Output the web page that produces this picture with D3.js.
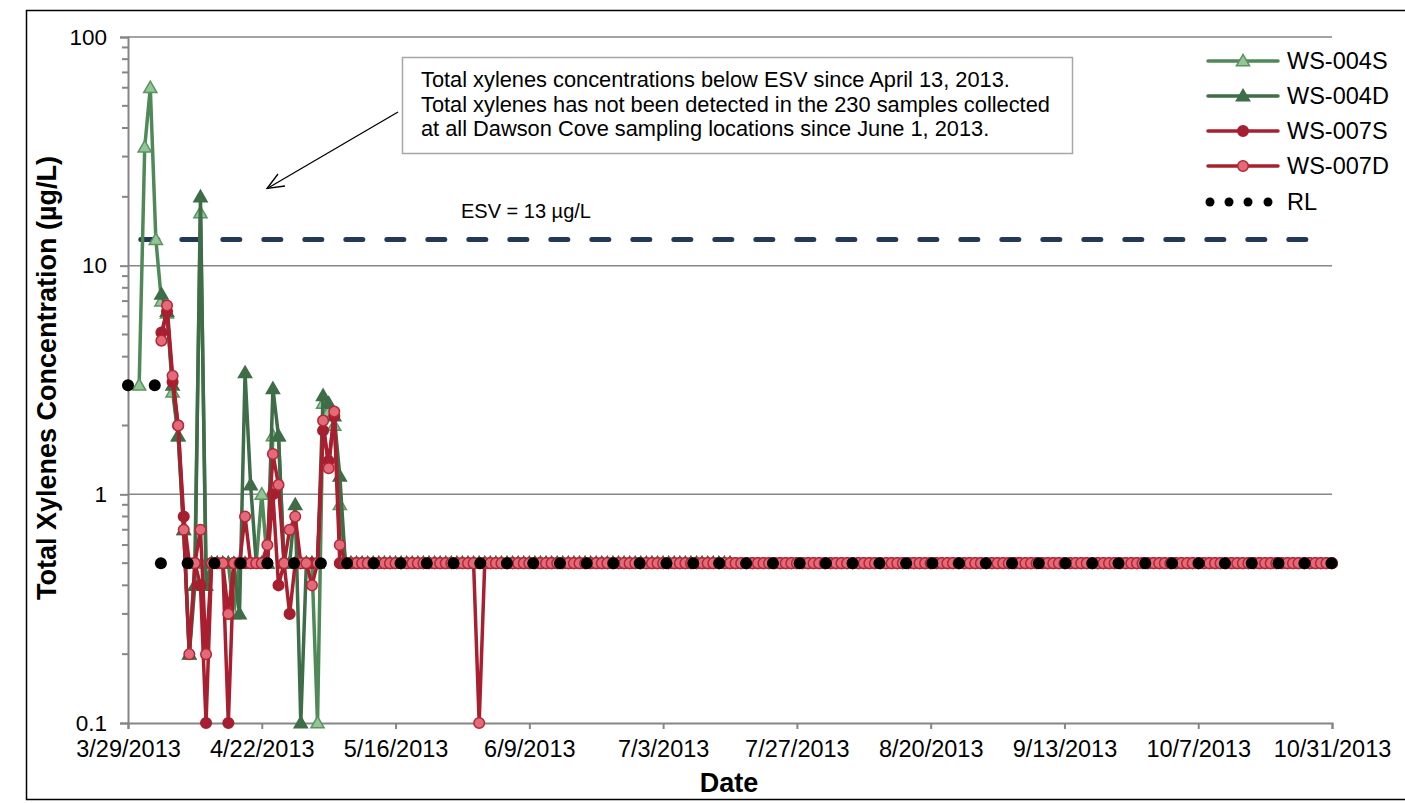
<!DOCTYPE html>
<html><head><meta charset="utf-8">
<script src="https://cdn.jsdelivr.net/npm/d3@7"></script>
<style>body{margin:0;background:#fff} svg{display:block} text{font-family:"Liberation Sans",Arial,sans-serif;fill:#000}</style>
</head><body><svg id="c" width="1405" height="803"></svg>
<script>
const N = null;
// days since 3/29/2013 (daily sampling)
const sampleDay = [
0,1,2,3,4,5,6,7,8,9,
10,11,12,13,14,15,16,17,18,19,
20,21,22,23,24,25,26,27,28,29,
30,31,32,33,34,35,36,37,38,39,
40,41,42,43,44,45,46,47,48,49,
50,51,52,53,54,55,56,57,58,59,
60,61,62,63,64,65,66,67,68,69,
70,71,72,73,74,75,76,77,78,79,
80,81,82,83,84,85,86,87,88,89,
90,91,92,93,94,95,96,97,98,99,
100,101,102,103,104,105,106,107,108,109,
110,111,112,113,114,115,116,117,118,119,
120,121,122,123,124,125,126,127,128,129,
130,131,132,133,134,135,136,137,138,139,
140,141,142,143,144,145,146,147,148,149,
150,151,152,153,154,155,156,157,158,159,
160,161,162,163,164,165,166,167,168,169,
170,171,172,173,174,175,176,177,178,179,
180,181,182,183,184,185,186,187,188,189,
190,191,192,193,194,195,196,197,198,199,
200,201,202,203,204,205,206,207,208,209,
210,211,212,213,214,215,216];

const ws004S = [
N,N,3,33,60,13,7.0,6.2,2.8,1.8,
0.7,0.2,0.5,17,0.5,0.5,0.5,0.5,0.5,0.3,
0.5,0.5,0.5,0.5,1.0,0.5,1.8,1.8,0.5,0.5,
0.5,0.5,0.5,0.5,0.1,2.5,2.3,2.0,0.9,0.5,
0.5,0.5,0.5,0.5,0.5,0.5,0.5,0.5,0.5,0.5,
0.5,0.5,0.5,0.5,0.5,0.5,0.5,0.5,0.5,0.5,
0.5,0.5,0.5,0.5,0.5,0.5,0.5,0.5,0.5,0.5,
0.5,0.5,0.5,0.5,0.5,0.5,0.5,0.5,0.5,0.5,
0.5,0.5,0.5,0.5,0.5,0.5,0.5,0.5,0.5,0.5,
0.5,0.5,0.5,0.5,0.5,0.5,0.5,0.5,0.5,0.5,
0.5,0.5,0.5,0.5,0.5,0.5,0.5,0.5,0.5,N,
N,N,N,N,N,N,N,N,N,N, N,N,N,N,N,N,N,N,N,N,
N,N,N,N,N,N,N,N,N,N, N,N,N,N,N,N,N,N,N,N,
N,N,N,N,N,N,N,N,N,N, N,N,N,N,N,N,N,N,N,N,
N,N,N,N,N,N,N,N,N,N, N,N,N,N,N,N,N,N,N,N,
N,N,N,N,N,N,N,N,N,N, N,N,N,N,N,N,N];

const ws004D = [
N,N,N,N,N,N,7.5,6.3,3.0,1.8,
0.7,0.2,0.4,20,0.4,0.5,0.5,0.5,0.5,0.5,
0.3,3.4,1.1,0.5,0.5,0.5,2.9,1.8,0.5,0.5,
0.9,0.1,0.5,0.5,0.5,2.7,2.5,2.2,1.2,0.5,
0.5,0.5,0.5,0.5,0.5,0.5,0.5,0.5,0.5,0.5,
0.5,0.5,0.5,0.5,0.5,0.5,0.5,0.5,0.5,0.5,
0.5,0.5,0.5,0.5,0.5,0.5,0.5,0.5,0.5,0.5,
0.5,0.5,0.5,0.5,0.5,0.5,0.5,0.5,0.5,0.5,
0.5,0.5,0.5,0.5,0.5,0.5,0.5,0.5,0.5,0.5,
0.5,0.5,0.5,0.5,0.5,0.5,0.5,0.5,0.5,0.5,
0.5,0.5,0.5,0.5,0.5,0.5,0.5,0.5,0.5,N,
N,N,N,N,N,N,N,N,N,N, N,N,N,N,N,N,N,N,N,N,
N,N,N,N,N,N,N,N,N,N, N,N,N,N,N,N,N,N,N,N,
N,N,N,N,N,N,N,N,N,N, N,N,N,N,N,N,N,N,N,N,
N,N,N,N,N,N,N,N,N,N, N,N,N,N,N,N,N,N,N,N,
N,N,N,N,N,N,N,N,N,N, N,N,N,N,N,N,N];

const ws007S = [
N,N,N,N,N,N,5.1,6.3,3.1,2.0,
0.8,0.5,0.5,0.4,0.1,0.5,0.5,0.5,0.1,0.5,
0.5,0.5,0.5,0.5,0.5,0.5,1.0,0.4,0.5,0.3,
0.5,0.5,0.5,0.5,0.5,1.9,1.4,2.2,0.5,0.5,
0.5,0.5,0.5,0.5,0.5,0.5,0.5,0.5,0.5,0.5,
0.5,0.5,0.5,0.5,0.5,0.5,0.5,0.5,0.5,0.5,
0.5,0.5,0.5,0.5,0.5,0.5,0.5,0.5,0.5,0.5,
0.5,0.5,0.5,0.5,0.5,0.5,0.5,0.5,0.5,0.5,
0.5,0.5,0.5,0.5,0.5,0.5,0.5,0.5,0.5,0.5,
0.5,0.5,0.5,0.5,0.5,0.5,0.5,0.5,0.5,0.5,
0.5,0.5,0.5,0.5,0.5,0.5,0.5,0.5,0.5,0.5,
0.5,0.5,0.5,0.5,0.5,0.5,0.5,0.5,0.5,0.5,
0.5,0.5,0.5,0.5,0.5,0.5,0.5,0.5,0.5,0.5,
0.5,0.5,0.5,0.5,0.5,0.5,0.5,0.5,0.5,0.5,
0.5,0.5,0.5,0.5,0.5,0.5,0.5,0.5,0.5,0.5,
0.5,0.5,0.5,0.5,0.5,0.5,0.5,0.5,0.5,0.5,
0.5,0.5,0.5,0.5,0.5,0.5,0.5,0.5,0.5,0.5,
0.5,0.5,0.5,0.5,0.5,0.5,0.5,0.5,0.5,0.5,
0.5,0.5,0.5,0.5,0.5,0.5,0.5,0.5,0.5,0.5,
0.5,0.5,0.5,0.5,0.5,0.5,0.5,0.5,0.5,0.5,
0.5,0.5,0.5,0.5,0.5,0.5,0.5,0.5,0.5,0.5,
0.5,0.5,0.5,0.5,0.5,0.5,0.5];

const ws007D = [
N,N,N,N,N,N,4.7,6.7,3.3,2.0,
0.7,0.2,0.5,0.7,0.2,0.5,0.5,0.5,0.3,0.5,
0.5,0.8,0.5,0.5,0.5,0.6,1.5,1.1,0.5,0.7,
0.8,0.5,0.5,0.4,0.5,2.1,1.3,2.3,0.6,0.5,
0.5,0.5,0.5,0.5,0.5,0.5,0.5,0.5,0.5,0.5,
0.5,0.5,0.5,0.5,0.5,0.5,0.5,0.5,0.5,0.5,
0.5,0.5,0.5,0.1,0.5,0.5,0.5,0.5,0.5,0.5,
0.5,0.5,0.5,0.5,0.5,0.5,0.5,0.5,0.5,0.5,
0.5,0.5,0.5,0.5,0.5,0.5,0.5,0.5,0.5,0.5,
0.5,0.5,0.5,0.5,0.5,0.5,0.5,0.5,0.5,0.5,
0.5,0.5,0.5,0.5,0.5,0.5,0.5,0.5,0.5,0.5,
0.5,0.5,0.5,0.5,0.5,0.5,0.5,0.5,0.5,0.5,
0.5,0.5,0.5,0.5,0.5,0.5,0.5,0.5,0.5,0.5,
0.5,0.5,0.5,0.5,0.5,0.5,0.5,0.5,0.5,0.5,
0.5,0.5,0.5,0.5,0.5,0.5,0.5,0.5,0.5,0.5,
0.5,0.5,0.5,0.5,0.5,0.5,0.5,0.5,0.5,0.5,
0.5,0.5,0.5,0.5,0.5,0.5,0.5,0.5,0.5,0.5,
0.5,0.5,0.5,0.5,0.5,0.5,0.5,0.5,0.5,0.5,
0.5,0.5,0.5,0.5,0.5,0.5,0.5,0.5,0.5,0.5,
0.5,0.5,0.5,0.5,0.5,0.5,0.5,0.5,0.5,0.5,
0.5,0.5,0.5,0.5,0.5,0.5,0.5,0.5,0.5,0.5,
0.5,0.5,0.5,0.5,0.5,0.5,0.5];

// Reporting limit points
const rlDay = [0,4.8,5.9,10.7,15.5,20.2,25.0,29.8,34.6,39.3,44.1,48.9,53.6,58.4,63.2,68.0,72.7,77.5,82.3,87.1,91.8,96.6,101.4,106.1,110.9,115.7,120.5,125.2,130.0,134.8,139.6,144.3,149.1,153.9,158.6,163.4,168.2,173.0,177.7,182.5,187.3,192.1,196.8,201.6,206.4,211.1,215.9];
const rlValue = [3,3,0.5,0.5,0.5,0.5,0.5,0.5,0.5,0.5,0.5,0.5,0.5,0.5,0.5,0.5,0.5,0.5,0.5,0.5,0.5,0.5,0.5,0.5,0.5,0.5,0.5,0.5,0.5,0.5,0.5,0.5,0.5,0.5,0.5,0.5,0.5,0.5,0.5,0.5,0.5,0.5,0.5,0.5,0.5,0.5,0.5];

const esvValue = 13;
const esvDay = [2.3, 214.7];
const esvLabel = "ESV = 13 µg/L";

const tickDay = [0,24,48,72,96,120,144,168,192,216];
const tickLabel = ["3/29/2013","4/22/2013","5/16/2013","6/9/2013","7/3/2013","7/27/2013","8/20/2013","9/13/2013","10/7/2013","10/31/2013"];
const yTickValue = [0.1,1,10,100];
const yTickLabel = ["0.1","1","10","100"];
const yMinor = [0.2,0.3,0.4,0.5,0.6,0.7,0.8,0.9,2,3,4,5,6,7,8,9,20,30,40,50,60,70,80,90];
const gridValue = [1,10,100];

const seriesNames = ["WS-004S","WS-004D","WS-007S","WS-007D","RL"];
const noteLines = [
 "Total xylenes concentrations below ESV since April 13, 2013.",
 "Total xylenes has not been detected in the 230 samples collected",
 "at all Dawson Cove sampling locations since June 1, 2013."];
const xTitle = "Date";
const yTitle = "Total Xylenes Concentration (µg/L)";

// ---------- drawing ----------
const svg = d3.select("#c");
const M = {l:128, r:1332, t:37, b:723};
const x = d3.scaleLinear().domain([0,216]).range([M.l, M.r]);
const y = d3.scaleLog().domain([0.1,100]).range([M.b, M.t]);

// outer frame
svg.append("rect").attr("x",26.5).attr("y",10.5).attr("width",1400).attr("height",789)
  .attr("fill","none").attr("stroke","#000").attr("stroke-width",1.5);

const axisCol = "#868686";
// gridlines
svg.append("g").selectAll("line").data(gridValue).join("line")
  .attr("x1",M.l).attr("x2",M.r).attr("y1",d=>y(d)).attr("y2",d=>y(d))
  .attr("stroke",axisCol).attr("stroke-width",1.5);

// y axis
const yAxis = svg.append("g").attr("transform",`translate(${M.l},0)`)
  .call(d3.axisLeft(y).tickValues(yTickValue).tickFormat((d,i)=>yTickLabel[i]).tickSize(8).tickPadding(13));
yAxis.select(".domain").attr("stroke",axisCol).attr("stroke-width",2);
yAxis.selectAll(".tick line").attr("stroke",axisCol).attr("stroke-width",2);
yAxis.selectAll("text").attr("font-size",22.5).attr("font-family","Liberation Sans, Arial");
svg.append("g").selectAll("line").data(yMinor).join("line")
  .attr("x1",M.l-6).attr("x2",M.l).attr("y1",d=>y(d)).attr("y2",d=>y(d))
  .attr("stroke",axisCol).attr("stroke-width",2);

// x axis
const xAxis = svg.append("g").attr("transform",`translate(0,${M.b})`)
  .call(d3.axisBottom(x).tickValues(tickDay).tickFormat((d,i)=>tickLabel[i]).tickSize(6).tickPadding(11));
xAxis.select(".domain").attr("stroke",axisCol).attr("stroke-width",2);
xAxis.selectAll(".tick line").attr("stroke",axisCol).attr("stroke-width",2);
xAxis.selectAll("text").attr("font-size",23.5).attr("font-family","Liberation Sans, Arial");

// ESV line
svg.append("line").attr("x1",x(esvDay[0])).attr("x2",x(esvDay[1]))
  .attr("y1",y(esvValue)).attr("y2",y(esvValue))
  .attr("stroke","#243858").attr("stroke-width",5).attr("stroke-linecap","round")
  .attr("stroke-dasharray","17 24");
svg.append("text").attr("x",461).attr("y",218).attr("font-size",20).text(esvLabel);

// series
const tri = d3.symbol().type(d3.symbolTriangle).size(75);
const styles = [
  {vals:ws004S, line:"#4f8957", fill:"#93c596", stroke:"#5b9462", shape:"tri"},
  {vals:ws004D, line:"#3e6d47", fill:"#3e6d47", stroke:"#3e6d47", shape:"tri"},
  {vals:ws007S, line:"#a8202f", fill:"#a51f31", stroke:"#a51f31", shape:"circ"},
  {vals:ws007D, line:"#a8202f", fill:"#e36b79", stroke:"#b52636", shape:"circ"}
];
const plot = svg.append("g");
styles.forEach(s=>{
  const pts = sampleDay.map((d,i)=>({d, v:s.vals[i]}));
  const line = d3.line().defined(p=>p.v!=null).x(p=>x(p.d)).y(p=>y(p.v));
  const g = plot.append("g");
  g.append("path").attr("d",line(pts)).attr("fill","none").attr("stroke",s.line)
    .attr("stroke-width",3.5).attr("stroke-linejoin","round");
  const P = pts.filter(p=>p.v!=null);
  if (s.shape==="tri") {
    g.selectAll("path.m").data(P).join("path").attr("class","m").attr("d",tri)
      .attr("transform",p=>`translate(${x(p.d)},${y(p.v)+1})`)
      .attr("fill",s.fill).attr("stroke",s.stroke).attr("stroke-width",1.5);
  } else {
    g.selectAll("circle").data(P).join("circle").attr("cx",p=>x(p.d)).attr("cy",p=>y(p.v))
      .attr("r",5.3).attr("fill",s.fill).attr("stroke",s.stroke).attr("stroke-width",1.5);
  }
});
// RL dots
plot.append("g").selectAll("circle").data(rlDay).join("circle")
  .attr("cx",d=>x(d)).attr("cy",(d,i)=>y(rlValue[i])).attr("r",6).attr("fill","#000");

// annotation
svg.append("rect").attr("x",402.5).attr("y",57.5).attr("width",670).attr("height",96)
  .attr("fill","#fff").attr("stroke","#a6a6a6").attr("stroke-width",1.5);
svg.append("g").selectAll("text").data(noteLines).join("text")
  .attr("x",421).attr("y",(d,i)=>87+i*24.5).attr("font-size",21.8).text(d=>d);
// arrow
svg.append("line").attr("x1",398).attr("y1",112).attr("x2",268).attr("y2",188)
  .attr("stroke","#000").attr("stroke-width",1.3);
svg.append("path").attr("d","M285,186 L267,188.5 L278,174").attr("fill","none")
  .attr("stroke","#000").attr("stroke-width",1.3);

// axis titles
svg.append("text").attr("x",729).attr("y",792).attr("text-anchor","middle")
  .attr("font-size",27).attr("font-weight","bold").text(xTitle);
svg.append("text").attr("transform","translate(56,378) rotate(-90)").attr("text-anchor","middle")
  .attr("font-size",27).attr("font-weight","bold").text(yTitle);

// legend
const lg = svg.append("g");
const ly = [61,96,131,166,202];
styles.forEach((s,i)=>{
  lg.append("line").attr("x1",1208).attr("x2",1278).attr("y1",ly[i]).attr("y2",ly[i])
    .attr("stroke",s.line).attr("stroke-width",3.5).attr("stroke-linecap","round");
  if (s.shape==="tri") lg.append("path").attr("d",tri).attr("transform",`translate(1243,${ly[i]+1})`)
    .attr("fill",s.fill).attr("stroke",s.stroke).attr("stroke-width",1.5);
  else lg.append("circle").attr("cx",1243).attr("cy",ly[i]).attr("r",5.3)
    .attr("fill",s.fill).attr("stroke",s.stroke).attr("stroke-width",1.5);
});
lg.selectAll("circle.rl").data([1210,1229,1248,1268]).join("circle").attr("class","rl")
  .attr("cx",d=>d).attr("cy",ly[4]).attr("r",4.5).attr("fill","#000");
lg.selectAll("text").data(seriesNames).join("text").attr("x",1287).attr("y",(d,i)=>ly[i]+8)
  .attr("font-size",23.5).text(d=>d);
</script></body></html>
